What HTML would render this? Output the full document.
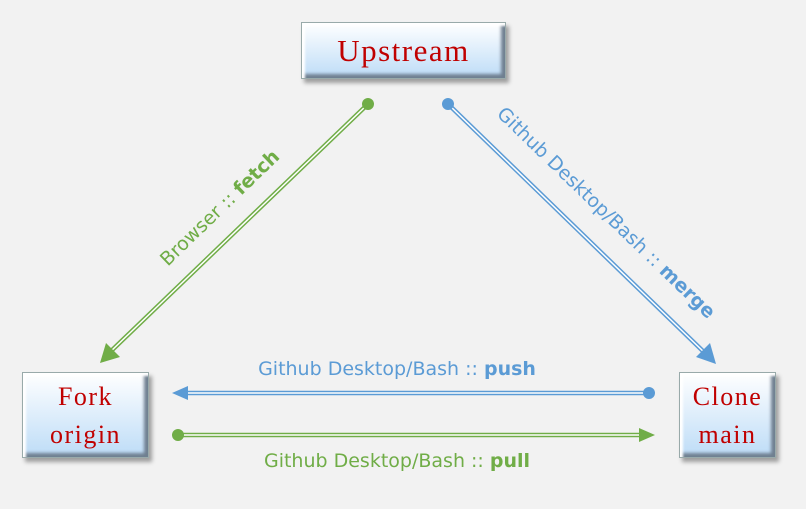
<!DOCTYPE html>
<html><head><style>
body{margin:0;width:806px;height:509px;background:#f2f2f2;overflow:hidden;position:relative;font-family:"DejaVu Sans",sans-serif}
.box{position:absolute;background:linear-gradient(#ffffff,#bddcf7);border:1px solid #9aa;box-shadow:inset 3px 3px 2px #fff,inset -4px -4px 3px #6f7f90,3px 4px 4px rgba(0,0,0,.35);color:#c00000;font-family:"Liberation Serif",serif;text-align:center;letter-spacing:1.5px}
.lbl{position:absolute;font-size:19px;white-space:nowrap;transform-origin:center}
.c{transform:translate(-50%,-50%)}
</style></head><body>
<div class="box" style="left:301px;top:22px;width:203px;height:55px;font-size:31px;line-height:55px">Upstream</div>
<div class="box" style="left:22px;top:372px;width:127px;height:86px;font-size:26px;line-height:38px;padding-top:5px;box-sizing:border-box">Fork<br>origin</div>
<div class="box" style="left:679px;top:372px;width:97px;height:86px;font-size:26px;line-height:38px;padding-top:5px;box-sizing:border-box">Clone<br>main</div>
<svg width="806" height="509" style="position:absolute;left:0;top:0">
<g fill="none">
<line x1="368" y1="104" x2="108" y2="354" stroke="#70ad47" stroke-width="4.5"/>
<line x1="368" y1="104" x2="108" y2="354" stroke="#fff" stroke-width="1.5"/>
<line x1="448" y1="104" x2="708" y2="356" stroke="#5b9bd5" stroke-width="4.5"/>
<line x1="448" y1="104" x2="708" y2="356" stroke="#fff" stroke-width="1.5"/>
<line x1="649" y1="393" x2="185" y2="393" stroke="#5b9bd5" stroke-width="4.5"/>
<line x1="649" y1="393" x2="185" y2="393" stroke="#fff" stroke-width="1.5"/>
<line x1="178" y1="435" x2="642" y2="435" stroke="#70ad47" stroke-width="4.5"/>
<line x1="178" y1="435" x2="642" y2="435" stroke="#fff" stroke-width="1.5"/>
</g>
<circle cx="368" cy="104" r="6" fill="#70ad47"/>
<circle cx="448" cy="104" r="6" fill="#5b9bd5"/>
<circle cx="649" cy="393" r="6" fill="#5b9bd5"/>
<circle cx="178" cy="435" r="6" fill="#70ad47"/>
<polygon points="100,363 106,343 120,357" fill="#70ad47"/>
<polygon points="716,364 696,357 710,343" fill="#5b9bd5"/>
<polygon points="172,393 188,386 188,400" fill="#5b9bd5"/>
<polygon points="655,435 639,428 639,442" fill="#70ad47"/>
</svg>
<div class="lbl" style="left:220px;top:208px;color:#70ad47;transform:translate(-50%,-50%) rotate(-44deg)">Browser :: <b>fetch</b></div>
<div class="lbl" style="left:606px;top:213px;color:#5b9bd5;transform:translate(-50%,-50%) rotate(44deg)">Github Desktop/Bash :: <b>merge</b></div>
<div class="lbl c" style="left:397px;top:369px;color:#5b9bd5">Github Desktop/Bash :: <b>push</b></div>
<div class="lbl c" style="left:397px;top:461px;color:#70ad47">Github Desktop/Bash :: <b>pull</b></div>
</body></html>
